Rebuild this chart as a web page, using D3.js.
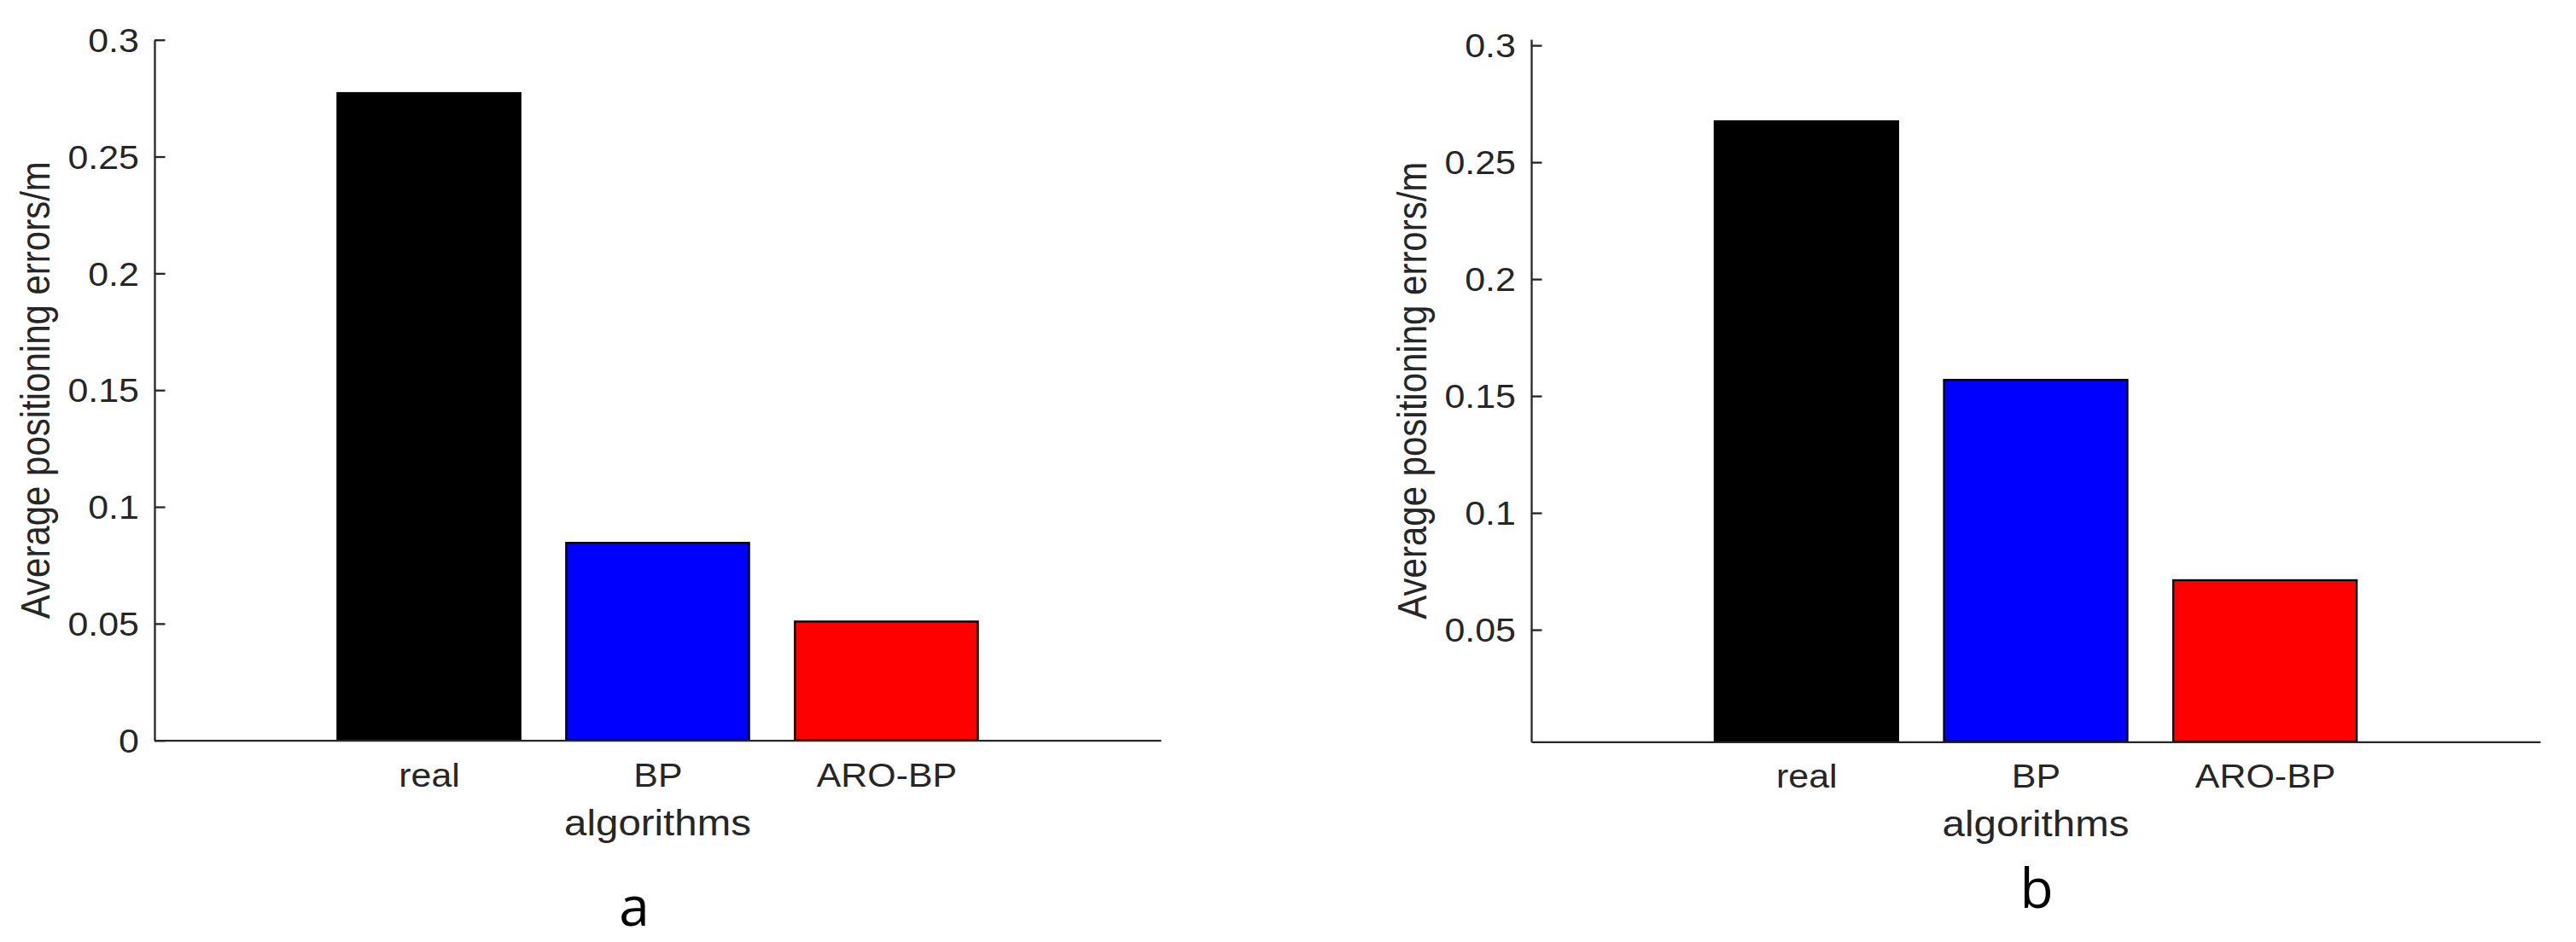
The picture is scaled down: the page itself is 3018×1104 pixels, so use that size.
<!DOCTYPE html>
<html>
<head>
<meta charset="utf-8">
<script src="https://cdn.jsdelivr.net/npm/d3@7/dist/d3.min.js"></script>
<style>
  html, body { margin: 0; padding: 0; background: #ffffff; }
  svg { display: block; }
</style>
</head>
<body>
<svg id="chart" width="3018" height="1104"></svg>
<script>
// ---- data ----
const categories = ["real", "BP", "ARO-BP"];
const categoryPositions = [1, 2, 3];
const barColors = ["#000000", "#0000ff", "#ff0000"];
const valuesA = [0.2772, 0.0846, 0.0509];
const valuesB = [0.2675, 0.1569, 0.0712];
const yTicksA = [0, 0.05, 0.1, 0.15, 0.2, 0.25, 0.3];
const yTickLabelsA = ["0", "0.05", "0.1", "0.15", "0.2", "0.25", "0.3"];
const yTicksB = [0.05, 0.1, 0.15, 0.2, 0.25, 0.3];
const yTickLabelsB = ["0.05", "0.1", "0.15", "0.2", "0.25", "0.3"];
const yDomainA = [0, 0.3];
const yDomainB = [0.0021, 0.3026];
const xDomain = [-0.2, 4.2];
const barWidth = 0.8;
const yLabelText = "Average positioning errors/m";
const xLabelText = "algorithms";
const panelLetters = ["a", "b"];

// ---- layout ----
const SX = 1.13; // horizontal stretch of the original figure text
const AXIS_COLOR = "#262626";
const FONT = "'Liberation Sans', Arial, Helvetica, sans-serif";
const svg = d3.select("#chart");

const panels = [
  { values: valuesA, ticks: yTicksA, labels: yTickLabelsA, yDomain: yDomainA,
    xr: [181, 1360], yr: [867.7, 46.7], letter: panelLetters[0], letterX: 743, letterY: 1085 },
  { values: valuesB, ticks: yTicksB, labels: yTickLabelsB, yDomain: yDomainB,
    xr: [1794, 2976], yr: [869.3, 46], letter: panelLetters[1], letterX: 2386, letterY: 1064 }
];

panels.forEach(p => {
  const x = d3.scaleLinear().domain(xDomain).range(p.xr);
  const y = d3.scaleLinear().domain(p.yDomain).range(p.yr);
  const g = svg.append("g");
  const base = Math.max(0, p.yDomain[0]);

  // bars
  g.selectAll("rect.bar")
    .data(p.values)
    .enter().append("rect")
    .attr("class", "bar")
    .attr("x", (d, i) => x(categoryPositions[i] - barWidth / 2))
    .attr("width", (d, i) => x(categoryPositions[i] + barWidth / 2) - x(categoryPositions[i] - barWidth / 2))
    .attr("y", d => y(d))
    .attr("height", d => y(base) - y(d))
    .attr("fill", (d, i) => barColors[i])
    .attr("stroke", "#000000")
    .attr("stroke-width", 2.3);

  // y axis (ticks pointing inward)
  const yAxis = d3.axisLeft(y)
    .tickValues(p.ticks)
    .tickFormat((d, i) => p.labels[i])
    .tickSizeInner(-12.5)
    .tickSizeOuter(0)
    .tickPadding(16);
  const yg = g.append("g")
    .attr("transform", `translate(${p.xr[0]},0)`)
    .call(yAxis);
  yg.select(".domain").attr("stroke", AXIS_COLOR).attr("stroke-width", 2.3);
  yg.selectAll(".tick line").attr("stroke", AXIS_COLOR).attr("stroke-width", 2.3);
  yg.selectAll(".tick text")
    .attr("fill", AXIS_COLOR)
    .attr("font-family", FONT)
    .attr("font-size", 38)
    .attr("dy", "0.36em")
    .attr("transform", `scale(${SX},1)`);

  // x axis
  const xAxis = d3.axisBottom(x)
    .tickValues(categoryPositions)
    .tickFormat((d, i) => categories[i])
    .tickSize(0)
    .tickPadding(27);
  const xg = g.append("g")
    .attr("transform", `translate(0,${p.yr[0]})`)
    .call(xAxis);
  xg.select(".domain").attr("stroke", AXIS_COLOR).attr("stroke-width", 2.3);
  xg.selectAll(".tick text")
    .attr("fill", AXIS_COLOR)
    .attr("font-family", FONT)
    .attr("font-size", 38)
    .attr("transform", `scale(${SX},1)`);

  // y label
  const cy = (p.yr[0] + p.yr[1]) / 2;
  g.append("text")
    .attr("transform", `translate(${p.xr[0] - 123},${cy}) scale(${SX},1) rotate(-90)`)
    .attr("text-anchor", "middle")
    .attr("fill", AXIS_COLOR)
    .attr("font-family", FONT)
    .attr("font-size", 42)
    .text(yLabelText);

  // x label
  const cx = (p.xr[0] + p.xr[1]) / 2;
  g.append("text")
    .attr("transform", `translate(${cx},${p.yr[0] + 111}) scale(${SX},1)`)
    .attr("text-anchor", "middle")
    .attr("fill", AXIS_COLOR)
    .attr("font-family", FONT)
    .attr("font-size", 42)
    .text(xLabelText);

  // panel letter
  g.append("text")
    .attr("transform", `translate(${p.letterX},${p.letterY})`)
    .attr("text-anchor", "middle")
    .attr("fill", "#000000")
    .attr("font-family", "'Open Sans', 'Noto Sans', sans-serif")
    .attr("font-size", 64)
    .text(p.letter);
});
</script>
</body>
</html>
